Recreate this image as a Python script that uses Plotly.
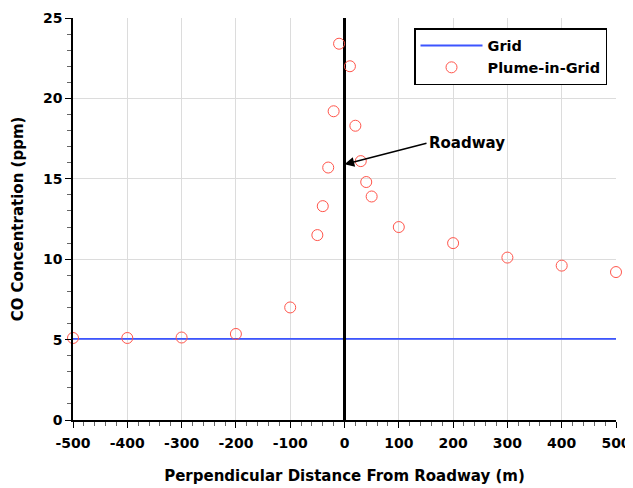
import plotly.graph_objects as go

# Data
distance = [-500, -400, -300, -200, -100, -50, -40, -30, -20, -10, 10, 20, 30, 40, 50, 100, 200, 300, 400, 500]
plume_in_grid = [5.1, 5.1, 5.13, 5.35, 7.0, 11.5, 13.3, 15.7, 19.2, 23.4, 22.0, 18.3, 16.1, 14.8, 13.9, 12.0, 11.0, 10.1, 9.6, 9.2]
grid_x = [-500, 500]
grid_y = [5.05, 5.05]
roadway_x = [0, 0]
roadway_y = [0, 25]
x_ticks = [-500, -400, -300, -200, -100, 0, 100, 200, 300, 400, 500]
x_ticklabels = ["-500", "-400", "-300", "-200", "-100", "0", "100", "200", "300", "400", "500"]
y_ticks = [0, 5, 10, 15, 20, 25]

FONT = "DejaVu Sans"

fig = go.Figure()
fig.add_trace(go.Scatter(x=grid_x, y=grid_y, mode="lines", name="Grid",
                         line=dict(color="rgb(60,85,255)", width=1.8)))
fig.add_trace(go.Scatter(x=roadway_x, y=roadway_y, mode="lines", showlegend=False,
                         line=dict(color="black", width=3), hoverinfo="skip"))
fig.add_trace(go.Scatter(x=distance, y=plume_in_grid, mode="markers", name="Plume-in-Grid",
                         cliponaxis=False,
                         marker=dict(symbol="circle-open", size=11,
                                     color="rgb(255,85,75)", line=dict(width=1))))

fig.add_annotation(x=0, y=15.9, xref="x", yref="y", text="<b>Roadway</b>",
                   showarrow=True, ax=82, ay=-21, xanchor="left", yanchor="middle",
                   arrowhead=2, arrowsize=1.3, arrowwidth=1.5, arrowcolor="black",
                   font=dict(family=FONT, size=15, color="black"))

# The page body has an 8px default margin, so margins are shifted to compensate.
fig.update_layout(
    width=633, height=488,
    margin=dict(l=65, r=25, t=10, b=76, autoexpand=False),
    paper_bgcolor="white", plot_bgcolor="white",
    font=dict(family=FONT, size=14, color="black"),
    legend=dict(x=0.628, y=0.975, xanchor="left", yanchor="top",
                bordercolor="black", borderwidth=1.5, bgcolor="white",
                itemwidth=62,
                font=dict(family=FONT, size=14.5, color="black", weight="bold")),
    xaxis=dict(range=[-500, 500], tickvals=x_ticks, ticktext=x_ticklabels,
               automargin=False,
               showgrid=True, gridcolor="#dcdcdc", gridwidth=1,
               showline=True, linecolor="black", linewidth=1.5,
               ticks="outside", ticklen=6, tickwidth=1.2, tickcolor="black",
               ticklabelstandoff=3,
               tickfont=dict(family=FONT, size=14, weight="bold"),
               minor=dict(dtick=20, ticks="outside", ticklen=4, tickcolor="#666", showgrid=False),
               zeroline=False,
               title=dict(text="Perpendicular Distance From Roadway (m)", standoff=21,
                          font=dict(family=FONT, size=15, weight="bold"))),
    yaxis=dict(range=[0, 25], tickvals=y_ticks,
               automargin=False,
               showgrid=True, gridcolor="#dcdcdc", gridwidth=1,
               showline=True, linecolor="black", linewidth=1.5,
               ticks="outside", ticklen=6, tickwidth=1.2, tickcolor="black",
               tickfont=dict(family=FONT, size=14, weight="bold"),
               minor=dict(dtick=1, ticks="outside", ticklen=4, tickcolor="#666", showgrid=False),
               zeroline=False,
               title=dict(text="CO Concentration (ppm)", standoff=16,
                          font=dict(family=FONT, size=15, weight="bold"))),
)

fig.write_html("out.html")
